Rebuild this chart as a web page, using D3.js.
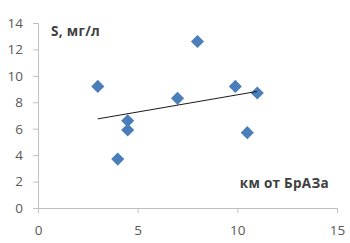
<!DOCTYPE html>
<html>
<head>
<meta charset="utf-8">
<script src="https://cdn.jsdelivr.net/npm/d3@7"></script>
<style>
  body { margin: 0; background: #fff; }
  svg { display: block; }
  .tick text { font-family: "Open Sans", "Liberation Sans", sans-serif; font-size: 13.5px; fill: #595959; }
  .lbl { font-family: "Open Sans", "Liberation Sans", sans-serif; font-size: 13.5px; font-weight: bold; fill: #404040; letter-spacing: 0.3px; }
</style>
</head>
<body>
<div id="chart"></div>
<script>
// distance from smelter (km) and concentration S (mg/l)
const kmValues = [3, 4, 4.5, 4.5, 7, 8, 9.9, 11, 10.5];
const sValues = [9.2, 3.7, 6.6, 5.9, 8.3, 12.6, 9.2, 8.7, 5.7];
const xTicks = [0, 5, 10, 15];
const yTicks = [0, 2, 4, 6, 8, 10, 12, 14];

const width = 350, height = 243;
const margin = { top: 23, right: 13, bottom: 35, left: 38 };

const svg = d3.select("#chart").append("svg")
    .attr("width", width)
    .attr("height", height);

const x = d3.scaleLinear().domain([0, 15]).range([margin.left, width - margin.right]);
const y = d3.scaleLinear().domain([0, 14]).range([height - margin.bottom, margin.top]);

// axes
const yAxis = svg.append("g")
    .attr("transform", `translate(${margin.left},0)`)
    .call(d3.axisLeft(y).tickValues(yTicks).tickSize(5).tickPadding(10).tickFormat(d3.format("d")));
const xAxis = svg.append("g")
    .attr("transform", `translate(0,${y(0)})`)
    .call(d3.axisBottom(x).tickValues(xTicks).tickSize(5).tickPadding(12).tickFormat(d3.format("d")));
[xAxis, yAxis].forEach(a => {
    a.selectAll("path, line").attr("stroke", "#bfbfbf");
});

// linear trend (least squares on the data)
const data = kmValues.map((k, i) => ({ km: k, s: sValues[i] }));
const mx = d3.mean(data, d => d.km), my = d3.mean(data, d => d.s);
const slope = d3.sum(data, d => (d.km - mx) * (d.s - my)) / d3.sum(data, d => (d.km - mx) ** 2);
const x0 = d3.min(kmValues), x1 = d3.max(kmValues);

// points
const diamond = d3.symbol().type(d3.symbolSquare).size(86);
svg.append("g").selectAll("path")
    .data(data)
    .enter().append("path")
    .attr("d", diamond)
    .attr("transform", d => `translate(${x(d.km)},${y(d.s)}) rotate(45)`)
    .attr("fill", "#4a7ebb");

svg.append("line")
    .attr("x1", x(x0)).attr("y1", y(my + slope * (x0 - mx)))
    .attr("x2", x(x1)).attr("y2", y(my + slope * (x1 - mx)))
    .attr("stroke", "#1a1a1a")
    .attr("stroke-width", 1);

// labels
svg.append("text").attr("class", "lbl").attr("x", 51).attr("y", 36).text("S, мг/л");
svg.append("text").attr("class", "lbl").attr("x", 329).attr("y", 188)
    .attr("text-anchor", "end").text("км от БрАЗа");
</script>
</body>
</html>
